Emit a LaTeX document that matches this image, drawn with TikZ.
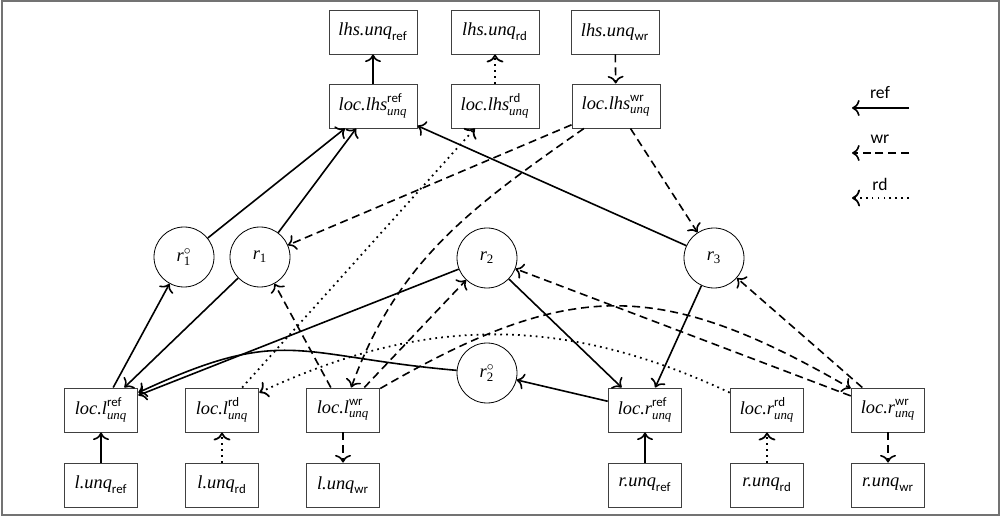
\documentclass[tikz,border=0pt]{standalone}
\usepackage{amsmath}
\usepackage{fontspec}
\setmainfont{Liberation Serif}
\setsansfont{Carlito}
\usetikzlibrary{arrows.meta}
\begin{document}
\begin{tikzpicture}[x=0.625pt,y=0.625pt,
  >={To[scale=1.25]},
  box/.style={draw=black!75, line width=0.6pt, minimum width=55pt, minimum height=27.5pt, inner sep=2pt, font=\fontsize{11.5}{13}\selectfont},
  sbox/.style={box, minimum width=46pt},
  circ/.style={draw, circle, line width=0.5pt, minimum size=37.5pt, inner sep=0pt, font=\fontsize{11.5}{13}\selectfont},
  refl/.style={line width=1pt, ->},
  wrl/.style={line width=1pt, ->, dash pattern=on 5pt off 3pt},
  rdl/.style={line width=1.1pt, ->, dash pattern=on 1.1pt off 2.6pt},
  lbl/.style={font=\sffamily\fontsize{11}{13}\selectfont, inner sep=1pt}
]
\useasboundingbox (0,0) rectangle (1002,521);
\draw[black!55, line width=1pt] (2,6) rectangle (999,520);

% top rows
\node[box] (lhsref) at (373,489) {$\textit{lhs.unq}_{\textsf{ref}}$};
\node[box] (lhsrd)  at (495,489) {$\textit{lhs.unq}_{\textsf{rd}}$};
\node[box] (lhswr)  at (615,489) {$\textit{lhs.unq}_{\textsf{wr}}$};
\node[box] (loclhsref) at (373,415) {$\textit{loc.lhs}^{\textsf{ref}}_{\textit{unq}}$};
\node[box] (loclhsrd)  at (495,415) {$\textit{loc.lhs}^{\textsf{rd}}_{\textit{unq}}$};
\node[box] (loclhswr)  at (616,415) {$\textit{loc.lhs}^{\textsf{wr}}_{\textit{unq}}$};

% circles
\node[circ] (r1o) at (184,264) {$\textit{r}^{\circ}_{\text{1}}$};
\node[circ] (r1)  at (260,264) {$\textit{r}_{\text{1}}$};
\node[circ] (r2)  at (487,263) {$\textit{r}_{\text{2}}$};
\node[circ] (r2o) at (487,148) {$\textit{r}^{\circ}_{\text{2}}$};
\node[circ] (r3)  at (714,263) {$\textit{r}_{\text{3}}$};

% bottom rows
\node[sbox] (loclref) at (101,111) {$\textit{loc.l}^{\textsf{ref}}_{\textit{unq}}$};
\node[sbox] (loclrd)  at (222,111) {$\textit{loc.l}^{\textsf{rd}}_{\textit{unq}}$};
\node[sbox] (loclwr)  at (343,111) {$\textit{loc.l}^{\textsf{wr}}_{\textit{unq}}$};
\node[sbox] (locrref) at (645,111) {$\textit{loc.r}^{\textsf{ref}}_{\textit{unq}}$};
\node[sbox] (locrrd)  at (767,111) {$\textit{loc.r}^{\textsf{rd}}_{\textit{unq}}$};
\node[sbox] (locrwr)  at (888,111) {$\textit{loc.r}^{\textsf{wr}}_{\textit{unq}}$};
\node[sbox] (lref) at (101,36) {$\textit{l.unq}_{\textsf{ref}}$};
\node[sbox] (lrd)  at (222,36) {$\textit{l.unq}_{\textsf{rd}}$};
\node[sbox] (lwr)  at (343,36) {$\textit{l.unq}_{\textsf{wr}}$};
\node[sbox] (rref) at (645,36) {$\textit{r.unq}_{\textsf{ref}}$};
\node[sbox] (rrd)  at (767,36) {$\textit{r.unq}_{\textsf{rd}}$};
\node[sbox] (rwr)  at (888,36) {$\textit{r.unq}_{\textsf{wr}}$};

% vertical links
\draw[refl] (loclhsref) -- (lhsref);
\draw[rdl]  (loclhsrd) -- (lhsrd);
\draw[wrl]  (lhswr) -- (loclhswr);
\draw[refl] (lref) -- (loclref);
\draw[rdl]  (lrd) -- (loclrd);
\draw[wrl]  (loclwr) -- (lwr);
\draw[refl] (rref) -- (locrref);
\draw[rdl]  (rrd) -- (locrrd);
\draw[wrl]  (locrwr) -- (rwr);

% ref edges
\draw[refl] (r1o) -- (loclhsref);
\draw[refl] (r1) -- (loclhsref);
\draw[refl] (r3) -- (loclhsref);
\draw[refl] (loclref) -- (r1o);
\draw[refl] (r1) -- (loclref);
\draw[refl] (r2) -- (loclref);
\draw[refl] (r2o) to[out=175,in=25,looseness=1.3] (loclref);
\draw[refl] (locrref) -- (r2o);
\draw[refl] (r2) -- (locrref);
\draw[refl] (r3) -- (locrref);

% wr edges
\draw[wrl] (loclhswr) -- (r1);
\draw[wrl] (loclhswr) to[out=215,in=70] (loclwr);
\draw[wrl] (loclhswr) -- (r3);
\draw[wrl] (loclwr) -- (r1);
\draw[wrl] (loclwr) -- (r2);
\draw[wrl] (loclwr) to[out=30,in=150,looseness=1.2] (locrwr);
\draw[wrl] (locrwr) -- (r2);
\draw[wrl] (locrwr) -- (r3);

% rd edges
\draw[rdl] (loclrd) -- (loclhsrd);
\draw[rdl] (locrrd) to[out=155,in=25] (loclrd);

% legend
\coordinate (la1) at (909,413); \coordinate (la2) at (852,413);
\coordinate (lb1) at (909,368); \coordinate (lb2) at (852,368);
\coordinate (lc1) at (909,323); \coordinate (lc2) at (852,323);
\node[lbl] (tref) at (880,428) {ref};
\node[lbl] (twr)  at (880,382) {wr};
\node[lbl] (trd)  at (880,337) {rd};
\draw[refl] (la1) -- (la2);
\draw[wrl] (lb1) -- (lb2);
\draw[rdl] (lc1) -- (lc2);
\end{tikzpicture}
\end{document}
